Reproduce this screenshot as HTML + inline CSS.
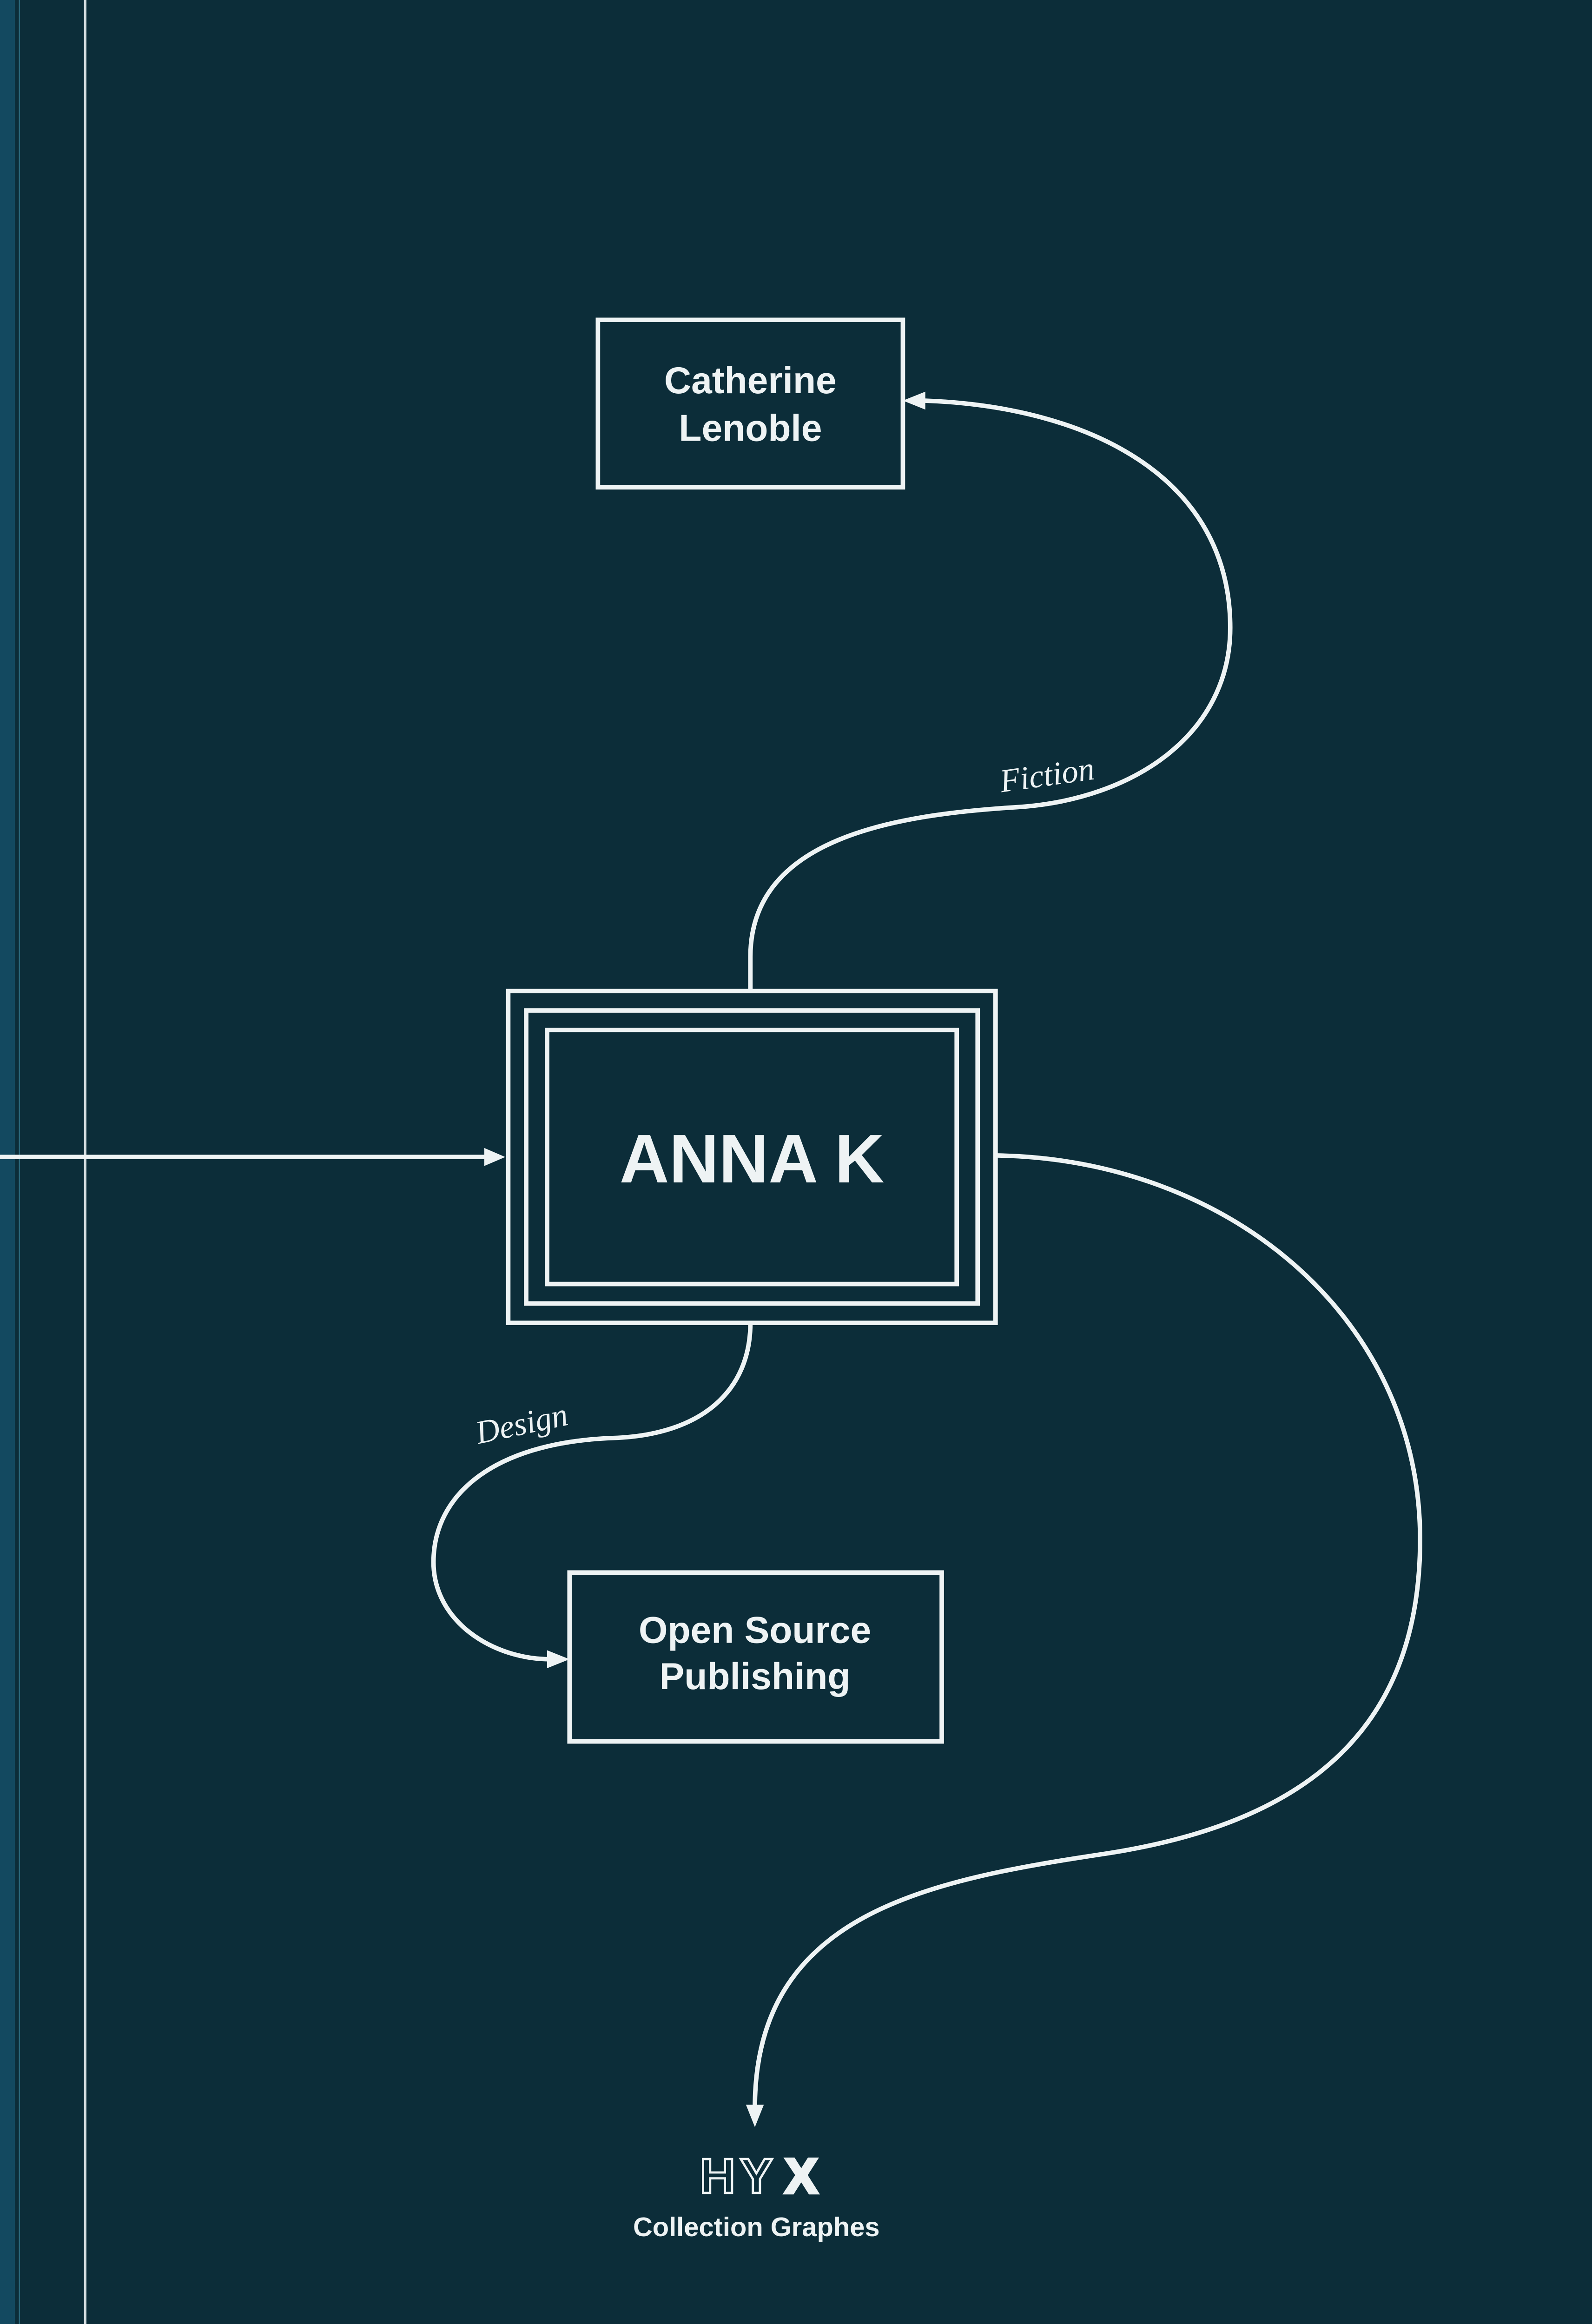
<!DOCTYPE html>
<html><head><meta charset="utf-8"><style>
html,body{margin:0;padding:0;background:#0c2d39;width:3425px;height:5044px;overflow:hidden;}
svg{display:block;position:absolute;left:0;top:0}
</style></head><body>
<svg width="3425" height="5044" viewBox="0 0 1065 1568.4" preserveAspectRatio="none" xmlns="http://www.w3.org/2000/svg">
<rect x="0" y="0" width="1065" height="1568.4" fill="#0c2d39"/>
<rect x="0" y="0" width="10" height="1568.4" fill="#15506a" opacity="0.8"/>
<line x1="13" y1="0" x2="13" y2="1568.4" stroke="#3f8ea6" stroke-width="0.8" opacity="0.6"/>
<line x1="57" y1="0" x2="57" y2="1568.4" stroke="#e8eef0" stroke-width="1.6" opacity="0.9"/>
<g fill="none" stroke="#eef3f4" stroke-width="3">
<rect x="400" y="214" width="204" height="112"/>
<rect x="340" y="663" width="326" height="222"/>
<rect x="352" y="676" width="302" height="196"/>
<rect x="366" y="689" width="274" height="170"/>
<rect x="381" y="1052" width="249" height="113"/>
<path d="M0,774 L328,774"/>
<path d="M502,663 L502,640 C502,560 600,545 680,540 C760,535 823,490 823,420 C823,320 730,272 618,268"/>
<path d="M502,885 C502,930 470,960 410,962 C330,965 290,1000 290,1045 C290,1085 330,1110 368,1110"/>
<path d="M666,773 C820,775 950,880 950,1030 C950,1160 870,1220 740,1240 C620,1258 505,1280 505,1410"/>
</g>
<g fill="#eef3f4">
<polygon points="338,774 324,768 324,780"/>
<polygon points="604,268 619,262 619,274"/>
<polygon points="381,1110 366,1104 366,1116"/>
<polygon points="505,1423 499,1408 511,1408"/>
</g>
<g fill="#eef3f4" font-family="Liberation Sans, sans-serif" font-weight="bold" text-anchor="middle">
<text x="502" y="263" font-size="25">Catherine</text>
<text x="502" y="295" font-size="25">Lenoble</text>
<text x="503" y="791" font-size="46">ANNA K</text>
<text x="505" y="1099" font-size="25">Open Source</text>
<text x="505" y="1130" font-size="25">Publishing</text>
<text x="506" y="1496" font-size="18">Collection Graphes</text>
</g>
<g fill="#eef3f4" font-family="Liberation Serif, serif" font-style="italic" font-size="22">
<text x="670" y="530" transform="rotate(-8 670 530)">Fiction</text>
<text x="320" y="966" transform="rotate(-12 320 966)">Design</text>
</g>
<g font-family="Liberation Sans, sans-serif" font-weight="bold" font-size="33" text-anchor="middle">
<text x="480" y="1467" fill="none" stroke="#eef3f4" stroke-width="1.5">H</text>
<text x="506" y="1467" fill="none" stroke="#eef3f4" stroke-width="1.5">Y</text>
<text x="536" y="1467" fill="#eef3f4" stroke="#eef3f4" stroke-width="2">X</text>
</g>
</svg>
</body></html>
